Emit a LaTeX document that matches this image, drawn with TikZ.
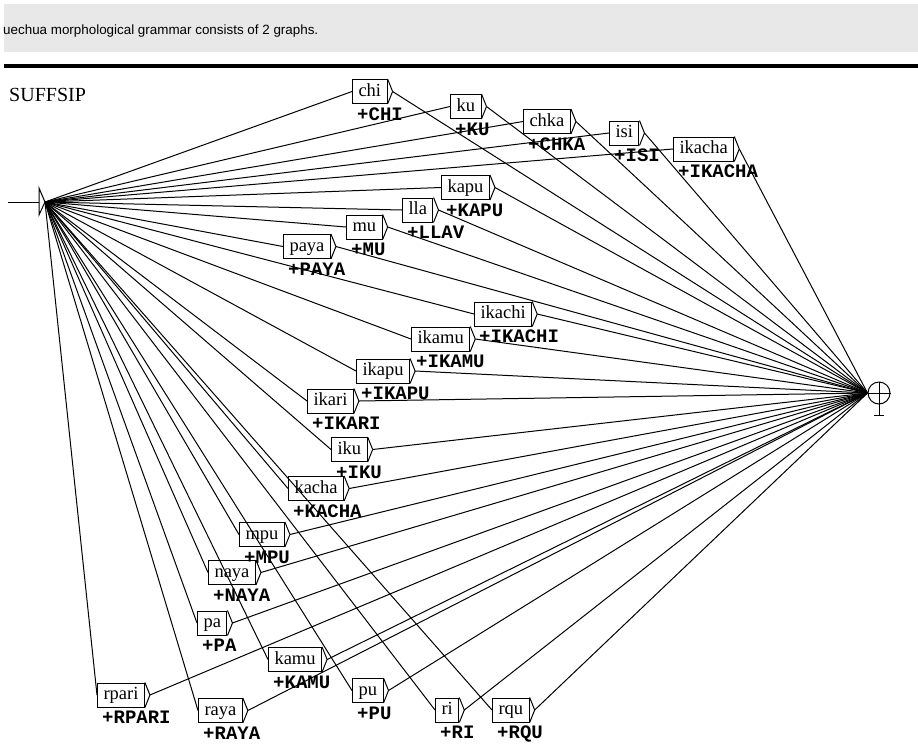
\documentclass[tikz,border=0pt]{standalone}
\usepackage{fontspec}
\setmainfont{Liberation Serif}
\newfontfamily\headsans{Liberation Sans}
\newfontfamily\labmono{Liberation Mono}
\usepackage{tikz}

\tikzset{
  tagbox/.style={draw, rectangle, anchor=west, line width=1pt,
    inner xsep=6pt, inner ysep=3.5pt, text height=13pt, text depth=4pt,
    font=\fontsize{18.5}{20}\selectfont,
    append after command={(\tikzlastnode.north east) edge[line width=1pt] ([xshift=5pt]\tikzlastnode.east)
      ([xshift=5pt]\tikzlastnode.east) edge[line width=1pt] (\tikzlastnode.south east)}},
  outlab/.style={anchor=north west, inner sep=0pt, xshift=5pt, yshift=-3.5pt,
    font=\labmono\bfseries\fontsize{19}{20}\selectfont},
  arc/.style={line width=1pt}
}

\begin{document}
\begin{tikzpicture}[x=1pt,y=-1pt]
\useasboundingbox (0,0) rectangle (918,748);
\fill[black!9] (4,4) rectangle (918,52);
\node[anchor=base west, inner sep=0pt, font=\headsans\fontsize{13.4}{15}\selectfont] (head) at (3,34) {uechua morphological grammar consists of 2 graphs.};
\draw[line width=3.5pt] (4,66) -- (918,66);
\node[anchor=base west, inner sep=0pt, font=\fontsize{20}{22}\selectfont] (title) at (9,101) {SUFFSIP};

% initial and final states
\coordinate (ini) at (45,202);
\draw[line width=1pt] (8,202) -- (39,202);
\draw[line width=1pt] (39,188) -- (ini) -- (39,215) -- cycle;
\node[shape=circle,draw=black,line width=1pt,minimum size=22pt,inner sep=0pt] (fin) at (879,393) {};
\draw[line width=1pt] (fin.north) -- (fin.south) (fin.west) -- (fin.east);
\draw[line width=1pt] (fin.south) -- ++(0,11) coordinate (finb);
\draw[line width=1pt] ([xshift=-5pt]finb) -- ([xshift=5pt]finb);

% boxes
\node[tagbox] (chi) at (352,91.5) {chi};
\node[tagbox] (ku) at (450,106.5) {ku};
\node[tagbox] (chka) at (523,121.5) {chka};
\node[tagbox] (isi) at (609,133) {isi};
\node[tagbox] (ikacha) at (673,149) {ikacha};
\node[tagbox] (kapu) at (441,187.5) {kapu};
\node[tagbox] (lla) at (402,210) {lla};
\node[tagbox] (mu) at (346,227) {mu};
\node[tagbox] (paya) at (283,246.5) {paya};
\node[tagbox] (ikachi) at (474,314) {ikachi};
\node[tagbox] (ikamu) at (411,339) {ikamu};
\node[tagbox] (ikapu) at (356,371) {ikapu};
\node[tagbox] (ikari) at (307,401) {ikari};
\node[tagbox] (iku) at (331,449.5) {iku};
\node[tagbox] (kacha) at (288,488.5) {kacha};
\node[tagbox] (mpu) at (239,534.5) {mpu};
\node[tagbox] (naya) at (208,572.5) {naya};
\node[tagbox] (pa) at (197,623) {pa};
\node[tagbox] (kamu) at (268,659.5) {kamu};
\node[tagbox] (rpari) at (97,695) {rpari};
\node[tagbox] (raya) at (198,710.5) {raya};
\node[tagbox] (pu) at (352,690.5) {pu};
\node[tagbox] (ri) at (435,710) {ri};
\node[tagbox] (rqu) at (492,710) {rqu};

% outputs
\node[outlab] (chiO) at (chi.south west) {+CHI};
\node[outlab] (kuO) at (ku.south west) {+KU};
\node[outlab] (chkaO) at (chka.south west) {+CHKA};
\node[outlab] (isiO) at (isi.south west) {+ISI};
\node[outlab] (ikachaO) at (ikacha.south west) {+IKACHA};
\node[outlab] (kapuO) at (kapu.south west) {+KAPU};
\node[outlab] (llaO) at (lla.south west) {+LLAV};
\node[outlab] (muO) at (mu.south west) {+MU};
\node[outlab] (payaO) at (paya.south west) {+PAYA};
\node[outlab] (ikachiO) at (ikachi.south west) {+IKACHI};
\node[outlab] (ikamuO) at (ikamu.south west) {+IKAMU};
\node[outlab] (ikapuO) at (ikapu.south west) {+IKAPU};
\node[outlab] (ikariO) at (ikari.south west) {+IKARI};
\node[outlab] (ikuO) at (iku.south west) {+IKU};
\node[outlab] (kachaO) at (kacha.south west) {+KACHA};
\node[outlab] (mpuO) at (mpu.south west) {+MPU};
\node[outlab] (nayaO) at (naya.south west) {+NAYA};
\node[outlab] (paO) at (pa.south west) {+PA};
\node[outlab] (kamuO) at (kamu.south west) {+KAMU};
\node[outlab] (rpariO) at (rpari.south west) {+RPARI};
\node[outlab] (rayaO) at (raya.south west) {+RAYA};
\node[outlab] (puO) at (pu.south west) {+PU};
\node[outlab] (riO) at (ri.south west) {+RI};
\node[outlab] (rquO) at (rqu.south west) {+RQU};

% transitions
\path [arc] (ini) edge (chi.west) ([xshift=5pt]chi.east) edge (fin.west);
\path [arc] (ini) edge (ku.west) ([xshift=5pt]ku.east) edge (fin.west);
\path [arc] (ini) edge (chka.west) ([xshift=5pt]chka.east) edge (fin.west);
\path [arc] (ini) edge (isi.west) ([xshift=5pt]isi.east) edge (fin.west);
\path [arc] (ini) edge (ikacha.west) ([xshift=5pt]ikacha.east) edge (fin.west);
\path [arc] (ini) edge (kapu.west) ([xshift=5pt]kapu.east) edge (fin.west);
\path [arc] (ini) edge (lla.west) ([xshift=5pt]lla.east) edge (fin.west);
\path [arc] (ini) edge (mu.west) ([xshift=5pt]mu.east) edge (fin.west);
\path [arc] (ini) edge (paya.west) ([xshift=5pt]paya.east) edge (fin.west);
\path [arc] (ini) edge (ikachi.west) ([xshift=5pt]ikachi.east) edge (fin.west);
\path [arc] (ini) edge (ikamu.west) ([xshift=5pt]ikamu.east) edge (fin.west);
\path [arc] (ini) edge (ikapu.west) ([xshift=5pt]ikapu.east) edge (fin.west);
\path [arc] (ini) edge (ikari.west) ([xshift=5pt]ikari.east) edge (fin.west);
\path [arc] (ini) edge (iku.west) ([xshift=5pt]iku.east) edge (fin.west);
\path [arc] (ini) edge (kacha.west) ([xshift=5pt]kacha.east) edge (fin.west);
\path [arc] (ini) edge (mpu.west) ([xshift=5pt]mpu.east) edge (fin.west);
\path [arc] (ini) edge (naya.west) ([xshift=5pt]naya.east) edge (fin.west);
\path [arc] (ini) edge (pa.west) ([xshift=5pt]pa.east) edge (fin.west);
\path [arc] (ini) edge (kamu.west) ([xshift=5pt]kamu.east) edge (fin.west);
\path [arc] (ini) edge (rpari.west) ([xshift=5pt]rpari.east) edge (fin.west);
\path [arc] (ini) edge (raya.west) ([xshift=5pt]raya.east) edge (fin.west);
\path [arc] (ini) edge (pu.west) ([xshift=5pt]pu.east) edge (fin.west);
\path [arc] (ini) edge (ri.west) ([xshift=5pt]ri.east) edge (fin.west);
\path [arc] (ini) edge (rqu.west) ([xshift=5pt]rqu.east) edge (fin.west);
\end{tikzpicture}
\end{document}
